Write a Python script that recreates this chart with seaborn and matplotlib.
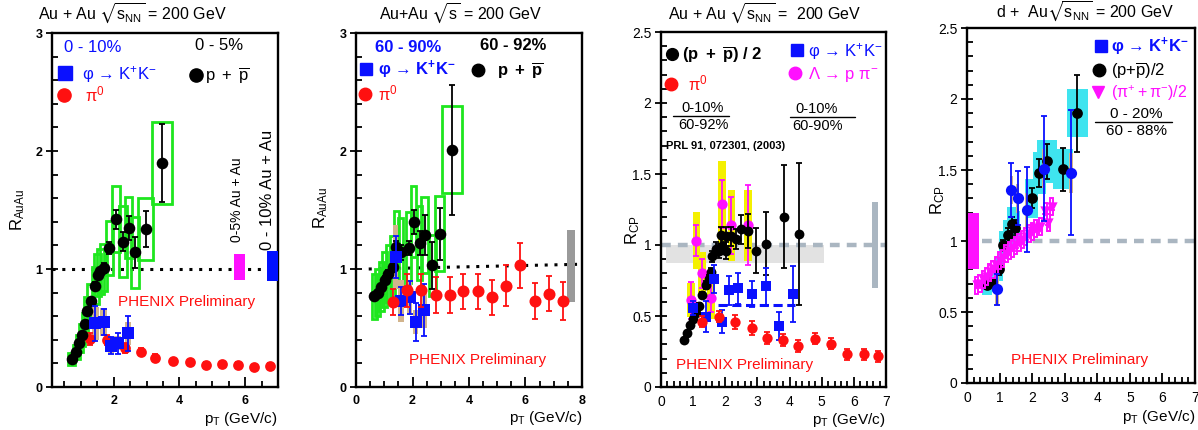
import matplotlib
matplotlib.use('Agg')
import numpy as np
import matplotlib.pyplot as plt
import seaborn as sns
from matplotlib.patches import Rectangle
from matplotlib.lines import Line2D
from matplotlib.legend import Legend
from matplotlib.ticker import MultipleLocator

# ---------------- panel 1 : Au+Au R_AuAu, central
p1_pp_pt = [0.72, 0.86, 0.95, 1.03, 1.13, 1.20, 1.30, 1.44, 1.51, 1.59, 1.69, 1.87, 2.08, 2.28, 2.45, 2.66, 2.97, 3.46]
p1_pp_r = [0.24, 0.30, 0.37, 0.44, 0.53, 0.64, 0.73, 0.86, 0.95, 0.98, 1.01, 1.18, 1.42, 1.23, 1.35, 1.14, 1.34, 1.90]
p1_pp_err = [0.02, 0.02, 0.02, 0.02, 0.02, 0.02, 0.02, 0.03, 0.03, 0.03, 0.04, 0.05, 0.08, 0.08, 0.10, 0.13, 0.15, 0.33]
p1_pp_sys = [0.05, 0.06, 0.07, 0.09, 0.10, 0.12, 0.14, 0.16, 0.18, 0.19, 0.20, 0.23, 0.28, 0.30, 0.26, 0.30, 0.26, 0.35]
p1_pp_bin = [0.10, 0.10, 0.10, 0.10, 0.10, 0.10, 0.10, 0.10, 0.10, 0.10, 0.10, 0.10, 0.12, 0.12, 0.12, 0.12, 0.23, 0.30]

p1_phi_pt = [1.44, 1.69, 1.92, 2.12, 2.43]
p1_phi_r = [0.54, 0.55, 0.35, 0.37, 0.455]
p1_phi_err = [0.15, 0.11, 0.07, 0.09, 0.15]
p1_phi_sys = [0.14, 0.12, 0.06, 0.06, 0.10]

p1_pi0_pt = [1.28, 1.80, 2.35, 2.83, 3.25, 3.80, 4.31, 4.80, 5.29, 5.77, 6.28, 6.77]
p1_pi0_r = [0.41, 0.40, 0.33, 0.30, 0.25, 0.22, 0.21, 0.19, 0.195, 0.19, 0.17, 0.18]
p1_pi0_err = [0.05, 0.04, 0.04, 0.03, 0.03, 0.02, 0.02, 0.02, 0.02, 0.02, 0.02, 0.02]

p1_norm_pt = [5.83, 6.85]
p1_norm_lo = [0.91, 0.90]
p1_norm_hi = [1.13, 1.15]

# ---------------- panel 2 : Au+Au R_AuAu, peripheral
p2_pp_pt = [0.65, 0.77, 0.89, 1.01, 1.15, 1.30, 1.42, 1.58, 1.86, 2.04, 2.25, 2.43, 2.70, 2.96, 3.40]
p2_pp_r = [0.77, 0.80, 0.85, 0.91, 0.96, 1.02, 1.19, 1.14, 1.18, 1.40, 1.22, 1.29, 1.03, 1.30, 2.01]
p2_pp_err = [0.02, 0.02, 0.02, 0.03, 0.03, 0.04, 0.05, 0.06, 0.06, 0.10, 0.10, 0.17, 0.20, 0.22, 0.55]
p2_pp_sys = [0.19, 0.20, 0.21, 0.23, 0.24, 0.26, 0.30, 0.29, 0.30, 0.30, 0.31, 0.32, 0.26, 0.32, 0.37]
p2_pp_bin = [0.09, 0.09, 0.09, 0.09, 0.09, 0.09, 0.09, 0.10, 0.10, 0.10, 0.10, 0.12, 0.12, 0.15, 0.35]

p2_phi_pt = [1.40, 1.60, 1.90, 2.11, 2.41]
p2_phi_r = [1.10, 0.73, 0.76, 0.55, 0.65]
p2_phi_err = [0.18, 0.12, 0.14, 0.16, 0.22]
p2_phi_sys = [0.27, 0.18, 0.15, 0.10, 0.15]

p2_pi0_pt = [1.31, 1.81, 2.31, 2.82, 3.32, 3.80, 4.33, 4.83, 5.31, 5.81, 6.35, 6.82, 7.32]
p2_pi0_r = [0.72, 0.82, 0.82, 0.78, 0.78, 0.81, 0.81, 0.76, 0.86, 1.03, 0.73, 0.79, 0.73]
p2_pi0_err = [0.11, 0.14, 0.14, 0.15, 0.15, 0.15, 0.15, 0.15, 0.17, 0.19, 0.15, 0.15, 0.16]

p2_norm_pt = [7.60]
p2_norm_lo = [0.72]
p2_norm_hi = [1.33]
p2_ref_pt = [0.45, 7.9]
p2_ref_r = [1.0, 1.04]

# ---------------- panel 3 : Au+Au R_CP
p3_pp_pt = [0.72, 0.80, 0.91, 1.01, 1.08, 1.18, 1.29, 1.39, 1.49, 1.57, 1.60, 1.71, 1.81, 1.91, 2.02,
            1.87, 2.02, 2.18, 2.34, 2.50, 2.71, 2.95, 3.28, 3.84, 4.28]
p3_pp_r = [0.33, 0.38, 0.44, 0.48, 0.52, 0.57, 0.65, 0.72, 0.76, 0.81, 0.92, 0.97, 0.96, 0.99, 0.96,
           1.07, 1.06, 1.06, 1.04, 1.11, 1.10, 0.96, 1.01, 1.20, 1.08]
p3_pp_err = [0.01, 0.01, 0.01, 0.02, 0.02, 0.02, 0.02, 0.03, 0.03, 0.03, 0.04, 0.05, 0.05, 0.05, 0.06,
             0.06, 0.07, 0.07, 0.07, 0.10, 0.12, 0.16, 0.22, 0.36, 0.50]

p3_phi_pt = [0.98, 1.40, 1.66, 1.89, 2.13, 2.41, 2.83, 3.26, 3.67, 4.10]
p3_phi_r = [0.555, 0.495, 0.76, 0.46, 0.68, 0.695, 0.655, 0.71, 0.43, 0.655]
p3_phi_err = [0.05, 0.11, 0.10, 0.08, 0.10, 0.11, 0.09, 0.13, 0.10, 0.20]
p3_phi_mean_pt = [1.76, 4.17]
p3_phi_mean_r = [0.58, 0.58]

p3_lam_pt = [0.93, 1.10, 1.27, 1.55, 1.89, 2.19, 2.70]
p3_lam_r = [0.61, 1.03, 0.80, 0.63, 1.29, 1.14, 1.14]
p3_lam_err = [0.13, 0.11, 0.10, 0.10, 0.17, 0.20, 0.28]
p3_lam_sys = [0.12, 0.20, 0.15, 0.15, 0.30, 0.25, 0.25]

p3_pi0_pt = [1.29, 1.79, 2.29, 2.83, 3.30, 3.80, 4.27, 4.80, 5.30, 5.79, 6.32, 6.76]
p3_pi0_r = [0.46, 0.495, 0.455, 0.415, 0.345, 0.33, 0.29, 0.34, 0.305, 0.23, 0.23, 0.215]
p3_pi0_err = [0.04, 0.04, 0.05, 0.05, 0.04, 0.04, 0.04, 0.04, 0.04, 0.04, 0.04, 0.04]

p3_band_pt = [0.14, 5.06]
p3_band_r = [0.875, 1.0]
p3_norm_pt = [6.65]
p3_norm_lo = [0.70]
p3_norm_hi = [1.30]

# ---------------- panel 4 : d+Au R_CP
p4_pp_pt = [0.62, 0.76, 0.97, 1.12, 1.25, 1.38, 1.48, 1.99, 2.22, 2.45, 2.94, 3.39]
p4_pp_r = [0.69, 0.71, 0.80, 0.97, 1.04, 1.12, 1.09, 1.30, 1.48, 1.56, 1.505, 1.90]
p4_pp_err = [0.03, 0.03, 0.04, 0.04, 0.05, 0.05, 0.06, 0.07, 0.10, 0.12, 0.15, 0.27]
p4_pp_sys = [0.07, 0.07, 0.08, 0.10, 0.11, 0.12, 0.12, 0.14, 0.15, 0.15, 0.14, 0.17]
p4_pp_bin = [0.15, 0.15, 0.15, 0.15, 0.15, 0.15, 0.15, 0.20, 0.20, 0.30, 0.31, 0.31]

p4_phi_pt = [0.92, 1.36, 1.56, 1.83, 2.35, 3.19]
p4_phi_r = [0.66, 1.36, 1.30, 1.22, 1.51, 1.48]
p4_phi_err = [0.11, 0.19, 0.19, 0.30, 0.37, 0.44]
p4_phi_sys = [0.12, 0.10, 0.10, 0.12, 0.14, 0.14]

p4_pi_pt = [0.30, 0.40, 0.50, 0.60, 0.70, 0.80, 0.90, 1.00, 1.10, 1.20, 1.30, 1.40,
            1.50, 1.60, 1.70, 1.80, 1.90, 2.00, 2.10, 2.25, 2.40, 2.50, 2.60]
p4_pi_r = [0.69, 0.70, 0.73, 0.75, 0.78, 0.80, 0.83, 0.86, 0.88, 0.91, 0.93, 0.95,
           0.97, 0.99, 1.01, 1.03, 1.05, 1.07, 1.09, 1.10, 1.21, 1.13, 1.24]

p4_norm_pt = [0.20]
p4_norm_lo = [0.80]
p4_norm_hi = [1.20]

xlabel = r'p$_{\mathrm{T}}$ (GeV/c)'
y34_ticks = [0, 0.5, 1, 1.5, 2, 2.5]
y34_labels = ['0', '0.5', '1', '1.5', '2', '2.5']

BLUE = '#0a10ff'
RED = '#ff1010'
MAG = '#ff10ff'
GREEN = '#1ee61e'
TAN = '#d2b48c'
CYAN = '#3fe4ef'
YELLOW = '#f4f000'
GRAYBLUE = '#aab6c1'

sns.set_style('ticks')
plt.rcParams['font.family'] = ['Liberation Sans', 'DejaVu Sans']
plt.rcParams.update({
    'mathtext.fontset': 'custom',
    'mathtext.rm': 'Liberation Sans',
    'mathtext.it': 'Liberation Sans:italic',
    'mathtext.bf': 'Liberation Sans:bold',
    'mathtext.sf': 'Liberation Sans',
    'mathtext.fallback': 'stixsans',
    'axes.edgecolor': 'black',
    'xtick.color': 'black',
    'ytick.color': 'black',
    'text.color': 'black',
})

W, H = 1198, 430
fig = plt.figure(figsize=(W / 100, H / 100), dpi=100)


def panel(l, t, r, b):
    return fig.add_axes([l / W, 1 - b / H, (r - l) / W, (b - t) / H])


def T(px, py, s, **kw):
    kw.setdefault('fontsize', 12)
    return fig.text(px / W, 1 - py / H, s, **kw)


def boxes(ax, x, y, dx, dy, color, filled=True, lw=2.0, z=1):
    dx = np.broadcast_to(dx, np.shape(x))
    dy = np.broadcast_to(dy, np.shape(x))
    for xi, yi, wi, hi in zip(x, y, dx, dy):
        if filled:
            ax.add_patch(Rectangle((xi - wi, yi - hi), 2 * wi, 2 * hi, facecolor=color, edgecolor='none', zorder=z))
        else:
            ax.add_patch(Rectangle((xi - wi, yi - hi), 2 * wi, 2 * hi, fill=False, edgecolor=color, lw=lw, zorder=z))


def pts(ax, x, y, err, marker, color, s, z=5):
    ax.errorbar(x, y, yerr=err, fmt='none', ecolor=color, elinewidth=1.3, capsize=2, capthick=1.3, zorder=z - 1)
    sns.scatterplot(x=x, y=y, ax=ax, marker=marker, color=color, s=s, linewidth=0, zorder=z, legend=False)


def key(ax, cx, cy, marker, ms, color, label, gap, weight='normal', fs=12):
    hl = 0.8
    left = cx - hl * fs * 100 / 72 / 2
    h = Line2D([], [], ls='none', marker=marker, ms=ms, color=color, mec=color)
    leg = Legend(ax, [h], [label], loc='center left', bbox_to_anchor=(left / W, 1 - cy / H),
                 bbox_transform=fig.transFigure, frameon=False, borderpad=0, borderaxespad=0,
                 handlelength=hl, handletextpad=gap, prop={'size': fs, 'weight': weight},
                 labelcolor=color, numpoints=1)
    ax.add_artist(leg)


def fraction(cx, cy, top, bottom, x0, x1, **kw):
    T(cx, cy - 8, top, ha='center', va='center', **kw)
    T(cx, cy + 9, bottom, ha='center', va='center', **kw)
    fig.add_artist(Line2D([x0 / W, x1 / W], [1 - cy / H, 1 - cy / H], color='black', lw=1.0,
                          transform=fig.transFigure))


def style(ax, xlim, ylim, xmaj, xmin, ymaj, ymin, ylabels, bold, fs):
    ax.set_xlim(xlim)
    ax.set_ylim(ylim)
    ax.set_xticks(xmaj, labels=[f'{v:g}' for v in xmaj])
    ax.set_yticks(ymaj, labels=ylabels)
    ax.xaxis.set_minor_locator(MultipleLocator(xmin))
    ax.yaxis.set_minor_locator(MultipleLocator(ymin))
    ax.tick_params(axis='x', which='both', direction='in', top=False, width=1.3, pad=6)
    ax.tick_params(axis='x', which='major', length=7)
    ax.tick_params(axis='x', which='minor', length=4)
    ax.tick_params(axis='y', which='major', direction='inout', length=8, width=1.3, right=False, pad=3)
    ax.tick_params(axis='y', which='minor', direction='in', length=4, width=1.3, right=False)
    for lab in ax.get_xticklabels() + ax.get_yticklabels():
        lab.set_fontweight('bold' if bold else 'normal')
        lab.set_fontsize(fs)
    for sp in ax.spines.values():
        sp.set_visible(True)
        sp.set_linewidth(1.7)
        sp.set_color('black')
    ax.set_xlabel('')
    ax.set_ylabel('')


# ================= panel 1
ax1 = panel(52, 33, 278, 387)
ax1.axhline(1.0, color='black', lw=2.2, ls=(0, (1, 2.2)), zorder=2)
boxes(ax1, p1_norm_pt, np.add(p1_norm_lo, p1_norm_hi) / 2, 0.17, np.subtract(p1_norm_hi, p1_norm_lo) / 2, MAG, z=3)
ax1.patches[-1].set_facecolor('#0010ff')
boxes(ax1, p1_pp_pt, p1_pp_r, p1_pp_bin, p1_pp_sys, GREEN, filled=False, z=2)
boxes(ax1, p1_phi_pt, p1_phi_r, 0.1, p1_phi_sys, TAN, z=3)
pts(ax1, p1_pi0_pt, p1_pi0_r, p1_pi0_err, 'o', RED, 60)
pts(ax1, p1_pp_pt, p1_pp_r, p1_pp_err, 'o', 'black', 70, z=7)
pts(ax1, p1_phi_pt, p1_phi_r, p1_phi_err, 's', BLUE, 70, z=9)
style(ax1, (0.12, 7.0), (0, 3), [2, 4, 6], 0.5, [0, 1, 2, 3], 0.2, ['0', '1', '2', '3'], True, 9)

# ================= panel 2
ax2 = panel(356, 33, 582, 387)
sns.lineplot(x=p2_ref_pt, y=p2_ref_r, ax=ax2, color='black', lw=2.2, ls=(0, (1, 2.2)), zorder=2)
boxes(ax2, p2_norm_pt, np.add(p2_norm_lo, p2_norm_hi) / 2, 0.14, np.subtract(p2_norm_hi, p2_norm_lo) / 2, '#9a9a9a', z=3)
boxes(ax2, p2_pp_pt, p2_pp_r, p2_pp_bin, p2_pp_sys, GREEN, filled=False, z=2)
boxes(ax2, p2_phi_pt, p2_phi_r, 0.1, p2_phi_sys, TAN, z=3)
pts(ax2, p2_pp_pt, p2_pp_r, p2_pp_err, 'o', 'black', 70, z=5)
pts(ax2, p2_phi_pt, p2_phi_r, p2_phi_err, 's', BLUE, 70, z=7)
pts(ax2, p2_pi0_pt, p2_pi0_r, p2_pi0_err, 'o', RED, 75, z=9)
style(ax2, (0, 8), (0, 3), [0, 2, 4, 6, 8], 0.5, [0, 1, 2, 3], 0.2, ['0', '1', '2', '3'], True, 9)

# ================= panel 3
ax3 = panel(661, 32, 886, 387)
ax3.fill_between(p3_band_pt, p3_band_r[0], p3_band_r[1], color='#e2e2e2', lw=0, zorder=1)
ax3.axhline(1.0, color=GRAYBLUE, lw=3.2, ls=(0, (2.2, 1.6)), zorder=2)
boxes(ax3, p3_norm_pt, np.add(p3_norm_lo, p3_norm_hi) / 2, 0.1, np.subtract(p3_norm_hi, p3_norm_lo) / 2, GRAYBLUE, z=3)
boxes(ax3, p3_lam_pt, p3_lam_r, 0.12, p3_lam_sys, YELLOW, z=2)
sns.lineplot(x=p3_phi_mean_pt, y=p3_phi_mean_r, ax=ax3, color=BLUE, lw=2.2, ls=(0, (3, 1.5)), zorder=3)
pts(ax3, p3_lam_pt, p3_lam_r, p3_lam_err, 'o', MAG, 55, z=5)
pts(ax3, p3_pp_pt, p3_pp_r, p3_pp_err, 'o', 'black', 50, z=7)
pts(ax3, p3_phi_pt, p3_phi_r, p3_phi_err, 's', BLUE, 60, z=9)
pts(ax3, p3_pi0_pt, p3_pi0_r, p3_pi0_err, 'o', RED, 55, z=11)
style(ax3, (0, 7), (0, 2.5), list(range(8)), 0.2, y34_ticks, 0.1, y34_labels, False, 10)

# ================= panel 4
ax4 = panel(967, 28, 1195, 383)
ax4.axhline(1.0, color=GRAYBLUE, lw=3.2, ls=(0, (2.2, 1.6)), xmin=0.065, zorder=1)
boxes(ax4, p4_norm_pt, np.add(p4_norm_lo, p4_norm_hi) / 2, 0.17, np.subtract(p4_norm_hi, p4_norm_lo) / 2, MAG, z=3)
boxes(ax4, p4_pp_pt, p4_pp_r, p4_pp_bin, p4_pp_sys, CYAN, z=2)
boxes(ax4, p4_phi_pt, p4_phi_r, 0.05, p4_phi_sys, TAN, z=3)
boxes(ax4, p4_pi_pt, p4_pi_r, 0.05, 0.06, MAG, filled=False, lw=1.4, z=6)
pts(ax4, p4_pp_pt, p4_pp_r, p4_pp_err, 'o', 'black', 60, z=5)
pts(ax4, p4_pi_pt, p4_pi_r, 0.02, 'v', MAG, 55, z=8)
pts(ax4, p4_phi_pt, p4_phi_r, p4_phi_err, 'o', BLUE, 65, z=10)
style(ax4, (0, 7), (0, 2.5), list(range(8)), 0.2, y34_ticks, 0.1, y34_labels, False, 10)

# ================= titles, axis labels
sq = r'$\sqrt{\mathrm{s}_{\mathrm{NN}}}$'
T(132, 14, 'Au + Au ' + sq + ' = 200 GeV', ha='center', va='center', fontsize=11.5)
T(461, 14, r'Au+Au $\sqrt{\mathrm{s}}$ = 200 GeV', ha='center', va='center', fontsize=11.5)
T(765, 14, 'Au + Au ' + sq + ' =  200 GeV', ha='center', va='center', fontsize=11.5)
T(1085, 12, 'd +  Au' + sq + ' = 200 GeV', ha='center', va='center', fontsize=11.5)

T(277, 419, xlabel, ha='right', va='center', fontsize=11)
T(582, 418, xlabel, ha='right', va='center', fontsize=11)
T(885, 420, xlabel, ha='right', va='center', fontsize=11)
T(1195, 417, xlabel, ha='right', va='center', fontsize=11)

T(18, 210, r'R$_{\mathrm{AuAu}}$', rotation=90, ha='center', va='center')
T(321, 208, r'R$_{\mathrm{AuAu}}$', rotation=90, ha='center', va='center')
T(633, 230, r'R$_{\mathrm{CP}}$', rotation=90, ha='center', va='center')
T(938, 200, r'R$_{\mathrm{CP}}$', rotation=90, ha='center', va='center')

# ================= panel annotations
phi_lab = r'$\mathrm{φ\ →\ K^{+}K^{-}}$'
phi_lab_b = r'$\mathbf{φ\ →\ K^{+}K^{-}}$'
pi0_lab = r'$\mathrm{π^{0}}$'
pp_lab = r'$\mathrm{p\ +\ \overline{p}}$'
pp_lab_b = r'$\mathbf{p\ +\ \overline{p}}$'

T(64, 47, '0 - 10%', color=BLUE, va='center')
T(195, 45, '0 - 5%', va='center')
key(ax1, 65, 74, 's', 9.5, BLUE, phi_lab, 0.62)
key(ax1, 196, 76, 'o', 9.5, 'black', pp_lab, 0.14)
key(ax1, 64, 94, 'o', 9.5, RED, pi0_lab, 0.86)
T(237, 200, '0-5% Au + Au', rotation=90, ha='center', va='center', fontsize=10)
T(268, 190, '0 - 10% Au + Au', rotation=90, ha='center', va='center', fontsize=12)
T(187, 302, 'PHENIX Preliminary', color=RED, ha='center', va='center', fontsize=11)

T(375, 48, '60 - 90%', color=BLUE, va='center', fontweight='bold')
T(480, 46, '60 - 92%', va='center', fontweight='bold')
key(ax2, 366, 70, 's', 9, BLUE, phi_lab_b, 0.32, weight='bold')
key(ax2, 478, 71, 'o', 9, 'black', pp_lab_b, 0.74, weight='bold')
key(ax2, 365, 93, 'o', 9, RED, pi0_lab, 0.38)
T(478, 360, 'PHENIX Preliminary', color=RED, ha='center', va='center', fontsize=11)

key(ax3, 672, 55, 'o', 8.5, 'black', r'$\mathbf{(p\ +\ \overline{p})\ /\ 2}$', 0.2, weight='bold')
key(ax3, 797, 51, 's', 8.5, BLUE, phi_lab, 0.23)
key(ax3, 795, 74, 'o', 9, MAG, r'$\mathrm{Λ\ →\ p\ π^{-}}$', 0.38)
key(ax3, 671, 83, 'o', 9, RED, pi0_lab, 0.59)
fraction(703, 116, '0-10%', '60-92%', 673, 729, fontsize=10.5)
fraction(817, 117, '0-10%', '60-90%', 790, 855, fontsize=10.5)
T(666, 146, 'PRL 91, 072301, (2003)', va='center', fontsize=8, fontweight='bold')
T(745, 365, 'PHENIX Preliminary', color=RED, ha='center', va='center', fontsize=11)

key(ax4, 1101, 47, 's', 9, BLUE, phi_lab_b, 0.21, weight='bold')
key(ax4, 1099, 71, 'o', 9, 'black', r'$\mathrm{(p{+}\overline{p})/2}$', 0.32)
key(ax4, 1098, 93, 'v', 9, MAG, r'$\mathrm{(π^{+} + π^{-})/2}$', 0.4, fs=11.5)
fraction(1136, 122, '0 - 20%', '60 - 88%', 1095, 1172, fontsize=11)
T(1080, 360, 'PHENIX Preliminary', color=RED, ha='center', va='center', fontsize=11)

fig.savefig('out.png', dpi=100, facecolor='white')
